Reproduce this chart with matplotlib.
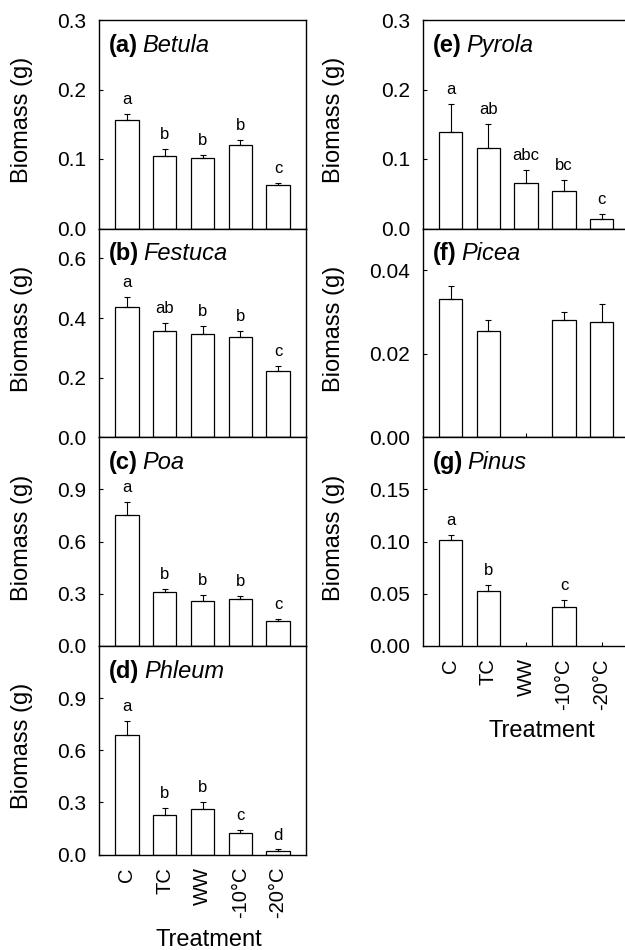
"""
Biomass of seedlings per treatment, seven species, two columns of stacked panels.
"""

import numpy as np
import matplotlib.pyplot as plt
from matplotlib.ticker import FormatStrFormatter

plt.rcParams["font.family"] = ["Liberation Sans", "DejaVu Sans"]

# ─── Data ────────────────────────────────────────────────────────────────────
TREATMENTS = ["C", "TC", "WW", "-10°C", "-20°C"]

betula_mean = [0.156, 0.105, 0.102, 0.120, 0.062]
betula_se = [0.009, 0.009, 0.004, 0.007, 0.003]
betula_letters = ["a", "b", "b", "b", "c"]

festuca_mean = [0.437, 0.355, 0.346, 0.337, 0.221]
festuca_se = [0.034, 0.029, 0.028, 0.020, 0.018]
festuca_letters = ["a", "ab", "b", "b", "c"]

poa_mean = [0.752, 0.311, 0.258, 0.272, 0.140]
poa_se = [0.074, 0.017, 0.036, 0.013, 0.012]
poa_letters = ["a", "b", "b", "b", "c"]

phleum_mean = [0.685, 0.229, 0.260, 0.123, 0.021]
phleum_se = [0.081, 0.039, 0.044, 0.016, 0.008]
phleum_letters = ["a", "b", "b", "c", "d"]

pyrola_mean = [0.139, 0.116, 0.065, 0.054, 0.013]
pyrola_se = [0.040, 0.034, 0.019, 0.016, 0.008]
pyrola_letters = ["a", "ab", "abc", "bc", "c"]

picea_mean = [0.0332, 0.0255, None, 0.0280, 0.0277]
picea_se = [0.0030, 0.0026, None, 0.0021, 0.0042]
picea_letters = ["", "", "", "", ""]

pinus_mean = [0.1016, 0.0525, None, 0.0373, None]
pinus_se = [0.0048, 0.0055, None, 0.0070, None]
pinus_letters = ["a", "b", "", "c", ""]

# ─── Layout (figure fractions) ──────────────────────────────────────────────
FIG_W, FIG_H = 625, 950
COL_X = [99 / FIG_W, 422.7 / FIG_W]
AX_W = 207 / FIG_W
ROW_TOP = [20, 228.7, 437.3, 646]
AX_H = 208.5 / FIG_H


def draw_panel(ax, tag, name, mean, se, letters, ymax, yticks, fmt, show_x):
    x = np.arange(1, len(TREATMENTS) + 1)
    m = np.array([np.nan if v is None else v for v in mean], dtype=float)
    s = np.array([np.nan if v is None else v for v in se], dtype=float)
    ok = ~np.isnan(m)

    ax.bar(x[ok], m[ok], width=0.62, color="white", edgecolor="black",
           linewidth=0.9, zorder=2)
    ax.errorbar(x[ok], m[ok], yerr=[np.zeros(ok.sum()), s[ok]], fmt="none",
                ecolor="black", elinewidth=0.8, capsize=2.5, capthick=0.8,
                zorder=3)

    for xi, top, lab in zip(x[ok], (m + s)[ok], np.array(letters)[ok]):
        if lab:
            ax.annotate(lab, xy=(xi, top), xytext=(0, 5),
                        textcoords="offset points", ha="center", va="bottom",
                        fontsize=12)

    # panel tag in bold, species in italics
    t1 = ax.text(0.05, 0.88, tag, transform=ax.transAxes, fontsize=17,
                 fontweight="bold", va="center", ha="left")
    ax.annotate(name, xy=(1, 0), xycoords=t1, xytext=(3, 0),
                textcoords="offset points", fontsize=17, style="italic",
                va="bottom", ha="left")

    ax.set_xlim(0.26, 5.74)
    ax.set_ylim(0, ymax)
    ax.set_yticks(yticks)
    ax.yaxis.set_major_formatter(FormatStrFormatter(fmt))
    ax.set_xticks(x)
    ax.tick_params(direction="in", length=3, width=0.8, labelsize=15, pad=9)
    if show_x:
        ax.set_xticklabels(TREATMENTS, rotation=90, fontsize=14.5)
        ax.tick_params(axis="x", pad=9)
        ax.set_xlabel("Treatment", fontsize=17)
    else:
        ax.set_xticklabels([])

    for sp in ax.spines.values():
        sp.set_linewidth(1.0)

    ax.set_ylabel("Biomass (g)", fontsize=17)


def main():
    fig = plt.figure(figsize=(FIG_W / 100, FIG_H / 100), dpi=100)

    left = [
        ("(a)", "Betula", betula_mean, betula_se, betula_letters, 0.3,
         [0.0, 0.1, 0.2, 0.3], "%.1f"),
        ("(b)", "Festuca", festuca_mean, festuca_se, festuca_letters, 0.7,
         [0.0, 0.2, 0.4, 0.6], "%.1f"),
        ("(c)", "Poa", poa_mean, poa_se, poa_letters, 1.2,
         [0.0, 0.3, 0.6, 0.9], "%.1f"),
        ("(d)", "Phleum", phleum_mean, phleum_se, phleum_letters, 1.2,
         [0.0, 0.3, 0.6, 0.9], "%.1f"),
    ]
    right = [
        ("(e)", "Pyrola", pyrola_mean, pyrola_se, pyrola_letters, 0.3,
         [0.0, 0.1, 0.2, 0.3], "%.1f"),
        ("(f)", "Picea", picea_mean, picea_se, picea_letters, 0.05,
         [0.00, 0.02, 0.04], "%.2f"),
        ("(g)", "Pinus", pinus_mean, pinus_se, pinus_letters, 0.2,
         [0.00, 0.05, 0.10, 0.15], "%.2f"),
    ]

    for col, panels in enumerate([left, right]):
        for row, spec in enumerate(panels):
            bottom = 1 - ROW_TOP[row] / FIG_H - AX_H
            ax = fig.add_axes([COL_X[col], bottom, AX_W, AX_H])
            last = row == len(panels) - 1
            draw_panel(ax, *spec, show_x=last)
            if col == 0:
                ax.yaxis.set_label_coords(-0.319, 0.52)
                if last:
                    ax.xaxis.set_label_coords(0.53, -0.355)
            else:
                ax.yaxis.set_label_coords(-0.375, 0.52)
                if last:
                    ax.xaxis.set_label_coords(0.575, -0.355)

    fig.savefig("out.png", dpi=100)
    plt.close(fig)


if __name__ == "__main__":
    main()
